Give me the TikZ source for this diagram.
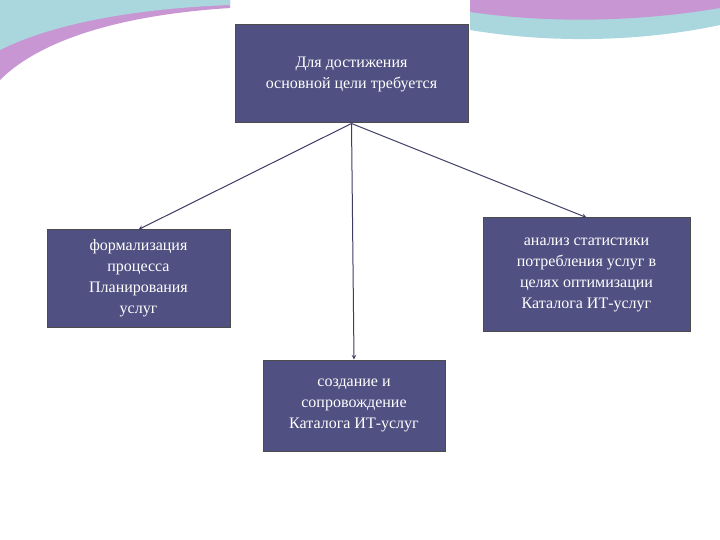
\documentclass[tikz,border=0pt]{standalone}
\usepackage{fontspec}
\setmainfont{Liberation Serif}
\definecolor{boxfill}{RGB}{80,80,130}
\definecolor{connc}{RGB}{60,60,100}
\definecolor{pinkc}{RGB}{200,150,210}
\definecolor{tealc}{RGB}{170,215,222}
\begin{document}
\begin{tikzpicture}[x=1pt,y=-1pt,
  box/.style={draw=black!70,line width=1pt,fill=boxfill,text=white,font=\fontsize{16}{21}\selectfont,align=center,inner sep=0pt},
  conn/.style={draw=connc,line width=1pt,-stealth}]
\useasboundingbox (0,0) rectangle (720,540);
\fill[white] (0,0) rectangle (720,540);
\fill[pinkc] (0,0) -- (0,80) .. controls (40,40) and (120,15) .. (230,8) -- (230,0) -- cycle;
\fill[tealc] (0,0) -- (0,50) .. controls (60,20) and (150,8) .. (230,5) -- (230,0) -- cycle;
\fill[tealc] (470,0) -- (470,30) .. controls (560,45) and (650,40) .. (720,25) -- (720,0) -- cycle;
\fill[pinkc] (470,0) -- (470,12) .. controls (560,25) and (650,20) .. (720,8) -- (720,0) -- cycle;
\node[box,minimum width=233,minimum height=98] (top) at (351.5,74) {Для достижения\\основной цели требуется};
\node[box,minimum width=183,minimum height=97] (left) at (138.5,278.5) {формализация\\процесса\\Планирования\\услуг};
\node[box,minimum width=207,minimum height=113] (right) at (586.5,274.5) {анализ статистики\\потребления услуг в\\целях оптимизации\\Каталога ИТ-услуг};
\node[box,minimum width=182,minimum height=91] (bot) at (354,405.5) {создание и\\сопровождение\\Каталога ИТ-услуг};
\draw[conn] (top.south) -- (left.north);
\draw[conn] (top.south) -- (bot.north);
\draw[conn] (top.south) -- (right.north);
\end{tikzpicture}
\end{document}
